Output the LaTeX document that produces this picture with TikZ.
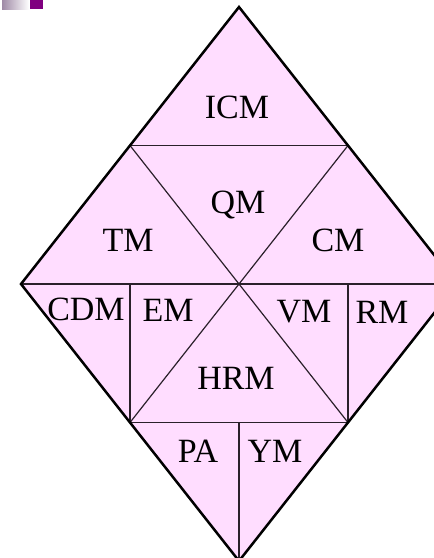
\documentclass[tikz,border=0pt]{standalone}
\usepackage{fontspec}
\setmainfont{Liberation Serif}
\usetikzlibrary{calc}
\definecolor{panelpink}{HTML}{FFDDFF}
\definecolor{markpurple}{HTML}{800080}
\definecolor{markgrey}{HTML}{9F8AA6}
\definecolor{innerline}{HTML}{2A202A}
\begin{document}
\begin{tikzpicture}[x=1pt,y=-1pt]
\tikzset{part/.style={font=\fontsize{34}{36}\selectfont, inner sep=0pt},
  split/.style={draw=innerline, line width=1.2pt}}
\useasboundingbox (0,0) rectangle (434,558);
\clip (0,0) rectangle (434,558);

\shade[left color=markgrey, right color=white] (2,0) rectangle (29,9);
\fill[markpurple] (30,0) rectangle (43,9);

\coordinate (top) at (239,7);
\coordinate (left) at (21,284);
\coordinate (bottom) at (239,561);
\coordinate (right) at (457,284);
\coordinate (mid) at (239,284);
\coordinate (tl) at ($(top)!0.5!(left)$);
\coordinate (tr) at ($(top)!0.5!(right)$);
\coordinate (bl) at ($(bottom)!0.5!(left)$);
\coordinate (br) at ($(bottom)!0.5!(right)$);
\coordinate (blup) at (bl |- mid);
\coordinate (brup) at (br |- mid);
\coordinate (foot) at (mid |- bl);

\fill[panelpink] (top) -- (left) -- (bottom) -- (right) -- cycle;
\draw[split] (tl) -- (tr);
\draw[split] (left) -- (right);
\draw[split] (bl) -- (br);
\draw[split] (tl) -- (br);
\draw[split] (tr) -- (bl);
\draw[split] (bl) -- (blup);
\draw[split] (br) -- (brup);
\draw[split] (foot) -- (bottom);
\draw[line width=2.5pt] (top) -- (left) -- (bottom) -- (right) -- cycle;

\node[part] (icm) at (237,107) {ICM};
\node[part] (qm) at (238,205) {QM};
\node[part] (tm) at (128,240) {TM};
\node[part] (cm) at (338,240) {CM};
\node[part] (cdm) at (86,309) {CDM};
\node[part] (em) at (168,310) {EM};
\node[part] (vm) at (304,312) {VM};
\node[part] (rm) at (382,312) {RM};
\node[part] (hrm) at (236,378) {HRM};
\node[part] (pa) at (198,451) {PA};
\node[part] (ym) at (275,451) {YM};
\end{tikzpicture}
\end{document}
